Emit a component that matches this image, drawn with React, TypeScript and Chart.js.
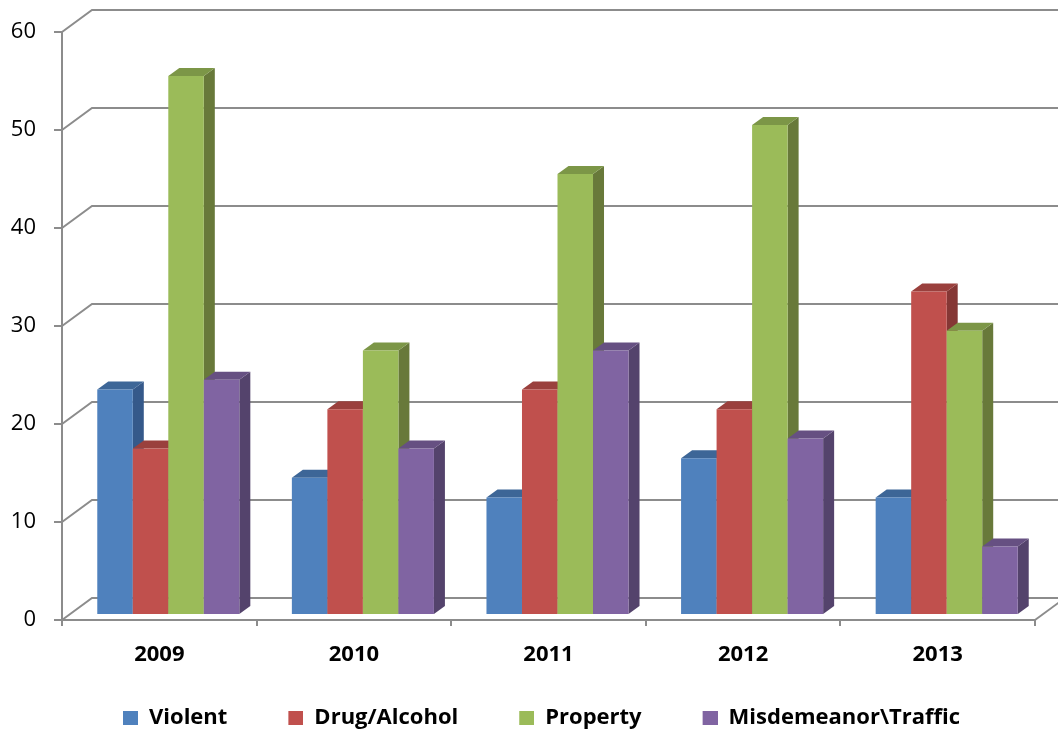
import React, { useEffect, useRef } from 'react';
import { Chart, registerables } from 'chart.js';

Chart.register(...registerables);

const categories = ['2009', '2010', '2011', '2012', '2013'];
const seriesNames = ['Violent', 'Drug/Alcohol', 'Property', 'Misdemeanor\\Traffic'];
const violent = [23, 14, 12, 16, 12];
const drugAlcohol = [17, 21, 23, 21, 33];
const property = [55, 27, 45, 50, 29];
const misdemeanorTraffic = [24, 17, 27, 18, 7];
const yTicks = [0, 10, 20, 30, 40, 50, 60];

const seriesValues = [violent, drugAlcohol, property, misdemeanorTraffic];
const frontColors = ['#4F81BD', '#C0504D', '#9BBB59', '#8064A2'];
const topColors = ['#3D6697', '#9A403D', '#7C9647', '#665082'];
const sideColors = ['#35598A', '#853735', '#68793A', '#54436C'];
const GRID = '#8C8C8C';
const FONT = "'Open Sans', 'DejaVu Sans', sans-serif";

const WALL_DX = 30;
const WALL_DY = 22;
const BAR_SHIFT_X = 9;
const BAR_SHIFT_Y = 5;
const BAR_DX = 11;
const BAR_DY = 8;

const LEGEND_BOX_W = 15;
const LEGEND_BOX_H = 14;
const LEGEND_GAP = 51;

function makeLegendSwatch(color: string): HTMLCanvasElement {
  const c = document.createElement('canvas');
  c.width = LEGEND_GAP + LEGEND_BOX_W;
  c.height = LEGEND_BOX_H;
  const g = c.getContext('2d');
  if (g) {
    g.fillStyle = color;
    g.fillRect(LEGEND_GAP, 0, LEGEND_BOX_W, LEGEND_BOX_H);
  }
  return c;
}

const wall3d = {
  id: 'wall3d',
  beforeDatasetsDraw(chart: any) {
    const { ctx, chartArea, scales } = chart;
    const ys = scales.y;
    ctx.save();
    ctx.strokeStyle = GRID;
    ctx.lineWidth = 2;
    yTicks.forEach((v) => {
      const py = ys.getPixelForValue(v);
      ctx.beginPath();
      ctx.moveTo(chartArea.left, py);
      ctx.lineTo(chartArea.left + WALL_DX, py - WALL_DY);
      ctx.lineTo(chart.width, py - WALL_DY);
      ctx.stroke();
    });
    const by = ys.getPixelForValue(0);
    ctx.beginPath();
    ctx.moveTo(chartArea.right, by);
    ctx.lineTo(chartArea.right + WALL_DX, by - WALL_DY);
    ctx.stroke();
    ctx.restore();

    // bars: side + top faces, then the library's own front rectangles, series by series
    for (let i = 0; i < chart.data.datasets.length; i++) {
      const meta = chart.getDatasetMeta(i);
      if (!meta || meta.hidden) continue;
      ctx.save();
      ctx.translate(BAR_SHIFT_X, -BAR_SHIFT_Y);
      meta.data.forEach((el: any) => {
        const { x, y, base, width } = el.getProps(['x', 'y', 'base', 'width'], true);
        const l = x - width / 2;
        const r = x + width / 2;
        ctx.fillStyle = sideColors[i];
        ctx.beginPath();
        ctx.moveTo(r, y);
        ctx.lineTo(r + BAR_DX, y - BAR_DY);
        ctx.lineTo(r + BAR_DX, base - BAR_DY);
        ctx.lineTo(r, base);
        ctx.closePath();
        ctx.fill();
        ctx.fillStyle = topColors[i];
        ctx.beginPath();
        ctx.moveTo(l, y);
        ctx.lineTo(l + BAR_DX, y - BAR_DY);
        ctx.lineTo(r + BAR_DX, y - BAR_DY);
        ctx.lineTo(r, y);
        ctx.closePath();
        ctx.fill();
      });
      meta.controller.draw();
      ctx.restore();
    }
    return false;
  },
};

export default function App() {
  const canvasRef = useRef<HTMLCanvasElement | null>(null);

  useEffect(() => {
    if (!canvasRef.current) return;
    Chart.defaults.font.family = FONT;
    const swatches = frontColors.map(makeLegendSwatch);
    const chart = new Chart(canvasRef.current, {
      type: 'bar',
      data: {
        labels: categories,
        datasets: seriesNames.map((name, i) => ({
          label: name,
          data: seriesValues[i],
          backgroundColor: frontColors[i],
          borderWidth: 0,
          categoryPercentage: 0.73,
          barPercentage: 1,
        })),
      },
      options: {
        responsive: false,
        animation: false,
        events: [],
        layout: { padding: { left: 0, right: 23, top: 32, bottom: -6 } },
        plugins: {
          tooltip: { enabled: false },
          legend: {
            position: 'bottom',
            align: 'start',
            fullSize: false,
            labels: {
              font: { family: FONT, size: 22, weight: 'bold' },
              color: '#000',
              usePointStyle: true,
              pointStyleWidth: LEGEND_GAP + LEGEND_BOX_W,
              boxHeight: LEGEND_BOX_H,
              padding: 10,
              generateLabels: (chart: any) =>
                chart.data.datasets.map((ds: any, i: number) => ({
                  text: ds.label,
                  fillStyle: frontColors[i],
                  strokeStyle: frontColors[i],
                  lineWidth: 0,
                  hidden: !chart.isDatasetVisible(i),
                  pointStyle: swatches[i],
                  datasetIndex: i,
                  fontColor: '#000',
                })),
            },
          },
        },
        scales: {
          x: {
            afterFit: (s: any) => {
              s.height = 77;
            },
            grid: { drawOnChartArea: false, tickLength: 6, color: GRID, lineWidth: 2, offset: true },
            border: { color: GRID, width: 2 },
            ticks: { font: { family: FONT, size: 22, weight: 'bold' }, color: '#000', padding: 16 },
          },
          y: {
            min: 0,
            max: 60,
            afterFit: (s: any) => {
              s.width = 62;
            },
            grid: { drawOnChartArea: false, tickLength: 8, color: GRID, lineWidth: 2 },
            border: { color: GRID, width: 2 },
            ticks: { stepSize: 10, font: { family: FONT, size: 22 }, color: '#000', padding: 18 },
          },
        },
      },
      plugins: [wall3d],
    });
    return () => chart.destroy();
  }, []);

  return (
    <div style={{ position: 'absolute', left: 0, top: 0, width: 1058, height: 733, background: '#fff' }}>
      <canvas ref={canvasRef} width={1058} height={733} style={{ display: 'block' }} />
    </div>
  );
}
